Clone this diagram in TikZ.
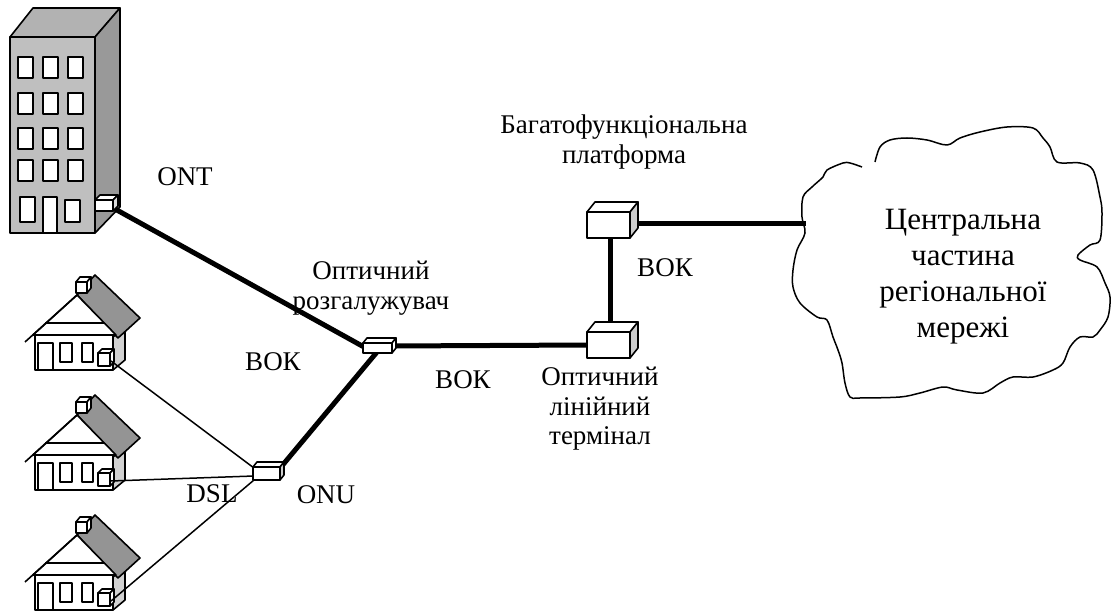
\documentclass[tikz,border=0pt]{standalone}
\usepackage{fontspec}
\setmainfont{Liberation Serif}
% small equipment box: x y w h dx dy side-fill
\newcommand{\devbox}[7]{%
  \filldraw[outline,fill=white] (#1,#2) -- ++(#5,-#6) -- ++(#3,0) -- ++(-#5,#6) -- cycle;
  \filldraw[outline,fill=#7] ({#1+#3},#2) -- ++(#5,-#6) -- ++(0,#4) -- ++(-#5,#6) -- cycle;
  \filldraw[outline,fill=white] (#1,#2) rectangle ++(#3,#4);
}
% detached house, shifted down by #1, terminal coordinate named #2
\newcommand{\house}[2]{%
  \begin{scope}[shift={(0,#1)}]
    \filldraw[outline,fill=black!18] (113,337) -- (125,327) -- (125,360) -- (113,370) -- cycle;
    \filldraw[outline,fill=black!42] (77,295) -- (95,275) -- (140,318) -- (118,338) -- cycle;
    \filldraw[outline,fill=white] (33,335) -- (77,295) -- (116,335) -- cycle;
    \draw[outline] (25,342) -- (77,295);
    \draw[outline] (45,323) -- (104,323);
    \filldraw[outline,fill=white] (35,335) rectangle (113,370);
    \filldraw[outline,fill=white] (38,343) rectangle (53,370);
    \filldraw[outline,fill=white] (60,343) rectangle (72,362);
    \filldraw[outline,fill=white] (82,343) rectangle (93,362);
    \devbox{76}{282}{11}{11}{4}{5}{white}
    \devbox{98}{353}{12}{13}{4}{4}{white}
    \coordinate (#2) at (111,361);
  \end{scope}
}
\begin{document}
\begin{tikzpicture}[x=1pt,y=-1pt,line join=round,
  outline/.style={draw=black,line width=1.6pt},
  fiber/.style={line width=5pt},
  copper/.style={line width=1.5pt},
  lbl/.style={font=\fontsize{27}{29.5}\selectfont,align=center,inner sep=0pt},
  bigl/.style={font=\fontsize{31}{36}\selectfont,align=center,inner sep=0pt}]
\path[use as bounding box] (0,0) rectangle (1112,612);

% connection points
\coordinate (ont) at (115,209);
\coordinate (splitL) at (364,347);
\coordinate (splitR) at (392,346);
\coordinate (splitB) at (377,352);
\coordinate (onuTR) at (281,467);
\coordinate (onuL1) at (254,468);
\coordinate (onuL2) at (254,476);
\coordinate (onuL3) at (254,480);
\coordinate (oltL) at (588,345);
\coordinate (oltT) at (610,330);
\coordinate (mfpB) at (610,237);
\coordinate (mfpR) at (636,224);
\coordinate (cloudL) at (806,224);

% multi-storey building
\filldraw[outline,fill=black!30] (10,37) -- (33,8) -- (120,8) -- (95,37) -- cycle;
\filldraw[outline,fill=black!40] (95,37) -- (120,8) -- (120,207) -- (95,233) -- cycle;
\filldraw[outline,fill=black!25] (10,37) rectangle (95,233);
\foreach \yy in {57,93,128,160} {
  \foreach \xx in {18,43,68} {
    \filldraw[outline,fill=white] (\xx,\yy) rectangle ++(15,21);
  }
}
\filldraw[outline,fill=white] (20,197) rectangle (35,222);
\filldraw[outline,fill=white] (43,197) rectangle (57,233);
\filldraw[outline,fill=white] (65,200) rectangle (80,222);

% houses
\house{0}{h1}
\house{120}{h2}
\house{240}{h3}

% cables
\draw[fiber] (ont) -- (splitL);
\draw[fiber] (splitR) -- (oltL);
\draw[fiber] (splitB) -- (onuTR);
\draw[fiber] (oltT) -- (mfpB);
\draw[fiber] (mfpR) -- (cloudL);
\draw[copper] (h1) -- (onuL1);
\draw[copper] (h2) -- (onuL2);
\draw[copper] (h3) -- (onuL3);

% equipment
\devbox{95}{200}{18}{11}{5}{5}{black!15}
\devbox{363}{343}{29}{10}{4}{5}{white}
\devbox{253}{467}{27}{13}{4}{5}{black!20}
\devbox{587}{212}{43}{26}{8}{10}{black!20}
\devbox{587}{332}{43}{26}{8}{10}{black!20}

% regional network cloud
\draw[line width=1.5pt] plot[smooth,tension=0.55] coordinates {
 (875,162) (880,147) (890,140) (907,138) (927,140) (947,145) (960,138)
 (980,132) (1007,127) (1033,128) (1043,138) (1050,147) (1057,162)
 (1080,163) (1093,170) (1100,197) (1102,213) (1100,240) (1090,245)
 (1078,255) (1080,260) (1097,267) (1105,283) (1110,297) (1108,317)
 (1100,330) (1093,337) (1080,337) (1070,347) (1063,363) (1053,370)
 (1033,377) (1013,377) (1000,383) (983,393) (957,390) (943,387)
 (920,393) (900,397) (860,398) (850,397) (845,383) (842,363) (838,350)
 (833,337) (827,320) (817,317) (800,303) (793,287) (793,270) (797,250)
 (805,233) (802,217) (803,197) (812,187) (823,177) (827,170) (843,163)
 (850,163) (862,167)};

% labels
\node[lbl] (tont) at (185,177) {ONT};
\node[lbl] (tsplit) at (371,288) {Оптичний\\розгалужувач};
\node[lbl] (tvok1) at (273,362) {ВОК};
\node[lbl] (tvok2) at (463,380) {ВОК};
\node[lbl] (tvok3) at (665,268) {ВОК};
\node[lbl] (tdsl) at (212,494) {DSL};
\node[lbl] (tonu) at (326,495) {ONU};
\node[lbl] (tmfp) at (624,142) {Багатофункціональна\\платформа};
\node[lbl] (tolt) at (600,409) {Оптичний\\лінійний\\термінал};
\node[bigl] (tcore) at (963,277) {Центральна\\частина\\регіональної\\мережі};
\end{tikzpicture}
\end{document}
